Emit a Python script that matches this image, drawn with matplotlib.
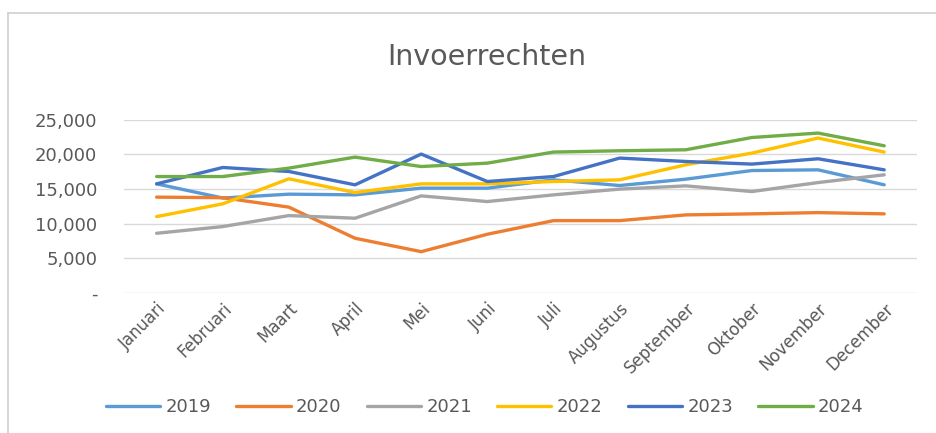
"""Invoerrechten per maand, 2019-2024."""
import matplotlib
matplotlib.use("Agg")
import matplotlib.pyplot as plt
from matplotlib.lines import Line2D
from matplotlib.ticker import FuncFormatter

months = ["Januari", "Februari", "Maart", "April", "Mei", "Juni", "Juli",
          "Augustus", "September", "Oktober", "November", "December"]
years = ["2019", "2020", "2021", "2022", "2023", "2024"]

v2019 = [15750, 13700, 14260, 14160, 15130, 15130, 16330, 15510, 16430, 17680, 17780, 15610]
v2020 = [13830, 13750, 12380, 7880, 5940, 8460, 10430, 10430, 11260, 11410, 11590, 11410]
v2021 = [8600, 9570, 11160, 10780, 14010, 13190, 14160, 14990, 15460, 14640, 15940, 17060]
v2022 = [11010, 12860, 16480, 14490, 15750, 15750, 16090, 16330, 18510, 20200, 22380, 20350]
v2023 = [15750, 18120, 17540, 15610, 20060, 16090, 16810, 19480, 18990, 18610, 19380, 17780]
v2024 = [16810, 16810, 18030, 19620, 18260, 18750, 20350, 20540, 20680, 22460, 23100, 21260]

series = [v2019, v2020, v2021, v2022, v2023, v2024]
colors = ["#5B9BD5", "#ED7D31", "#A5A5A5", "#FFC000", "#4472C4", "#70AD47"]

TXT = "#595959"
plt.rcParams["font.family"] = ["DejaVu Sans"]

fig = plt.figure(figsize=(9.36, 4.33), dpi=100)
ax = fig.add_axes([0.132, 0.324, 0.848, 0.399])

x = range(len(months))
for vals, c, lab in zip(series, colors, years):
    ax.plot(x, vals, color=c, linewidth=2.4, label=lab, solid_capstyle="round")

ax.set_xlim(-0.5, len(months) - 0.5)
ax.set_ylim(0, 25000)
ax.set_yticks(range(0, 25001, 5000))
ax.yaxis.set_major_formatter(FuncFormatter(lambda v, p: "-" if v == 0 else f"{int(v):,}"))
ax.grid(axis="y", color="#D9D9D9", linewidth=1)
ax.set_axisbelow(True)
for s in ax.spines.values():
    s.set_visible(False)

ax.set_xticks(list(x))
ax.set_xticklabels(months, rotation=45, ha="right", rotation_mode="anchor")
ax.tick_params(axis="both", length=0, labelcolor=TXT)
ax.tick_params(axis="x", pad=5, labelsize=12)
ax.tick_params(axis="y", pad=19, labelsize=13)

fig.text(0.52, 0.868, "Invoerrechten", ha="center", va="center", fontsize=20.5, color=TXT)

fig.legend(loc="center", bbox_to_anchor=(0.518, 0.06), ncol=6, frameon=False,
           fontsize=13, handlelength=3.0, handletextpad=0.3, columnspacing=1.4,
           labelcolor=TXT)

# chart border (top and left edges visible in the screenshot)
fig.add_artist(Line2D([0.009, 1.0], [0.970, 0.970], color="#D0D0D0", linewidth=1.2))
fig.add_artist(Line2D([0.009, 0.009], [0.0, 0.970], color="#D0D0D0", linewidth=1.2))

fig.savefig("out.png", dpi=100)
